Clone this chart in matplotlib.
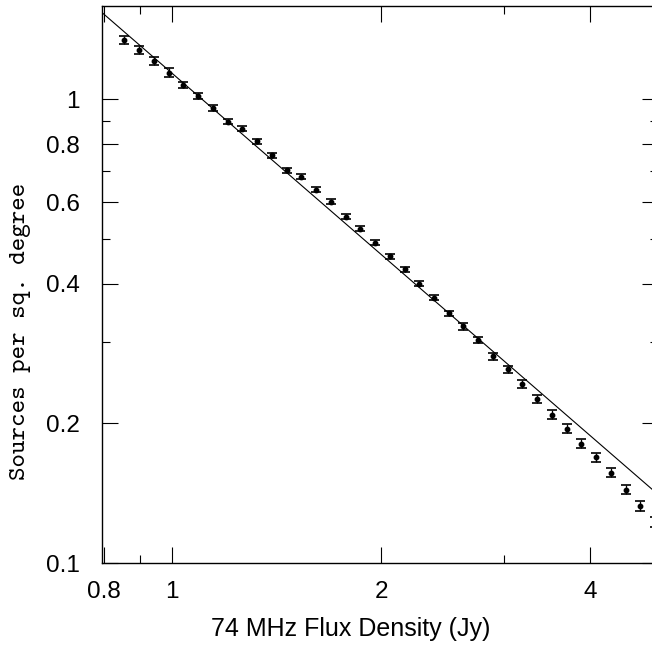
import matplotlib
matplotlib.use("Agg")
import matplotlib.pyplot as plt
from matplotlib.ticker import NullFormatter

# 74 MHz source counts
FLUX = [0.855, 0.898, 0.943, 0.990, 1.039, 1.091, 1.146, 1.203, 1.263, 1.327,
        1.393, 1.463, 1.536, 1.612, 1.693, 1.778, 1.866, 1.960, 2.058, 2.161,
        2.269, 2.382, 2.501, 2.626, 2.758, 2.896, 3.040, 3.192, 3.352, 3.519,
        3.695, 3.880, 4.074, 4.278, 4.492, 4.716, 4.952]
COUNTS = [1.342, 1.278, 1.211, 1.141, 1.072, 1.015, 0.956, 0.896, 0.864, 0.812,
          0.758, 0.704, 0.681, 0.639, 0.601, 0.558, 0.526, 0.491, 0.459, 0.430,
          0.400, 0.373, 0.346, 0.324, 0.303, 0.279, 0.2615, 0.243, 0.226, 0.209,
          0.195, 0.181, 0.169, 0.1567, 0.1440, 0.1327, 0.1224]
ERRORS = [0.0280, 0.0273, 0.0241, 0.0255, 0.0160, 0.0151, 0.0143, 0.0125, 0.0107, 0.0101,
          0.0094, 0.0087, 0.0084, 0.0079, 0.0075, 0.0069, 0.0065, 0.0061, 0.0057, 0.0053,
          0.0050, 0.0046, 0.0043, 0.0053, 0.0048, 0.0053, 0.0042, 0.0046, 0.0042, 0.0044,
          0.0042, 0.0038, 0.0036, 0.0035, 0.0032, 0.0031, 0.0030]

# power-law model N = A * S^alpha
FIT_NORM = 1.14
FIT_INDEX = -1.3
FIT_X = [0.793, 5.0]

X_MAJOR = [0.8, 1, 2, 4]
X_LABELS = ["0.8", "1", "2", "4"]
X_MINOR = [0.9, 3]
Y_MAJOR = [0.1, 0.2, 0.4, 0.6, 0.8, 1]
Y_LABELS = ["0.1", "0.2", "0.4", "0.6", "0.8", "1"]
Y_MINOR = [0.3, 0.5, 0.7, 0.9]

plt.rcParams["font.family"] = ["Liberation Sans", "DejaVu Sans"]

fig = plt.figure(figsize=(6.52, 6.47), dpi=100)
ax = fig.add_axes([0.156, 0.1298, 0.853, 0.8609])
ax.set_xscale("log")
ax.set_yscale("log")

fit_y = [FIT_NORM * x ** FIT_INDEX for x in FIT_X]
ax.plot(FIT_X, fit_y, color="black", linewidth=0.8)
ax.errorbar(FLUX, COUNTS, yerr=ERRORS, fmt="o", color="black", markersize=3.2,
            elinewidth=0.9, capsize=3.6, capthick=1.2)

ax.set_xlim(0.793, 5.0)
ax.set_ylim(0.1, 1.59)

ax.set_xticks(X_MAJOR, X_LABELS)
ax.set_xticks(X_MINOR, minor=True)
ax.set_yticks(Y_MAJOR, Y_LABELS)
ax.set_yticks(Y_MINOR, minor=True)
ax.xaxis.set_minor_formatter(NullFormatter())
ax.yaxis.set_minor_formatter(NullFormatter())

ax.tick_params(which="both", direction="in", top=True, right=True, width=0.8)
ax.tick_params(which="major", length=11.5, labelsize=17.5)
ax.tick_params(which="minor", length=6)
ax.tick_params(axis="x", which="major", pad=13)
ax.tick_params(axis="y", which="major", pad=16)
for spine in ax.spines.values():
    spine.set_linewidth(1.0)

ax.set_xlabel("74 MHz Flux Density (Jy)", fontsize=18)
ax.xaxis.set_label_coords(0.448, -0.1185)
ax.xaxis.label.set_va("center")
ax.set_ylabel("Sources per sq. degree", fontsize=18.5, family="cmtt10")
ax.yaxis.set_label_coords(-0.146, 0.4165)
ax.yaxis.label.set_va("center")

fig.savefig("out.png", dpi=100)
